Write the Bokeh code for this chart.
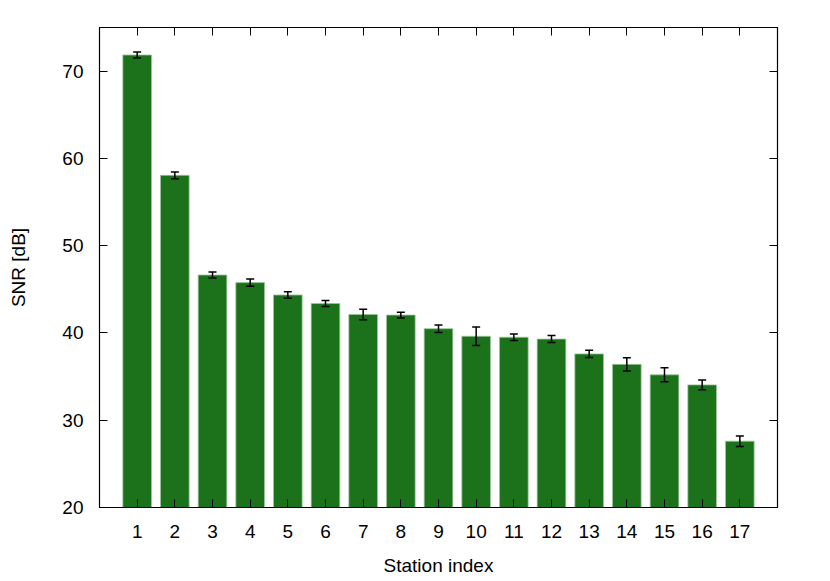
from bokeh.plotting import figure
from bokeh.models import ColumnDataSource, Whisker, TeeHead, LinearAxis, FixedTicker, Range1d
from bokeh.embed import file_html
from bokeh.resources import INLINE

stations = list(range(1, 18))
snr = [71.85, 58.06, 46.64, 45.77, 44.35, 43.37, 42.12, 42.05, 40.49, 39.62,
       39.51, 39.30, 37.60, 36.40, 35.20, 34.05, 27.60]
err = [0.35, 0.38, 0.35, 0.42, 0.36, 0.35, 0.60, 0.33, 0.43, 1.07,
       0.38, 0.40, 0.42, 0.75, 0.80, 0.57, 0.60]
y_ticks = [20, 30, 40, 50, 60, 70]

src = ColumnDataSource(dict(
    x=stations, top=snr,
    upper=[s + e for s, e in zip(snr, err)],
    lower=[s - e for s, e in zip(snr, err)],
))

FONT = "Liberation Sans"

p = figure(width=822, height=578, output_backend="svg", toolbar_location=None,
           x_range=Range1d(0, 18), y_range=Range1d(20, 75),
           x_axis_location=None, y_axis_location=None,
           min_border_left=99, min_border_right=45, min_border_top=27, min_border_bottom=66)
p.outline_line_color = "black"
p.outline_line_width = 1.2
p.xgrid.visible = False
p.ygrid.visible = False

p.vbar(x="x", top="top", bottom=20, width=0.76, source=src,
       fill_color="#1b721b", line_color="#9cc49c", line_width=0.8)

w = Whisker(base="x", upper="upper", lower="lower", source=src,
            line_color="black", line_width=1.5, level="overlay",
            upper_head=TeeHead(size=8, line_color="black", line_width=1.5),
            lower_head=TeeHead(size=8, line_color="black", line_width=1.5))
p.add_layout(w)

def style(ax, labels=True):
    ax.major_tick_in = 8
    ax.major_tick_out = 0
    ax.minor_tick_in = 0
    ax.minor_tick_out = 0
    ax.axis_line_color = "black"
    ax.major_tick_line_color = "black"
    ax.major_label_text_font = FONT
    ax.major_label_text_font_size = "19px"
    ax.major_label_text_color = "black"
    ax.axis_label_text_font = FONT
    ax.axis_label_text_font_size = "19px"
    ax.axis_label_text_font_style = "normal"
    ax.axis_label_text_color = "black"
    if not labels:
        ax.major_label_text_font_size = "0px"
        ax.major_label_text_alpha = 0

xb = LinearAxis(ticker=FixedTicker(ticks=stations), axis_label="Station index")
style(xb)
xb.major_label_standoff = 17
xb.axis_label_standoff = 14
p.add_layout(xb, "below")

xt = LinearAxis(ticker=FixedTicker(ticks=stations))
style(xt, labels=False)
p.add_layout(xt, "above")

yl = LinearAxis(ticker=FixedTicker(ticks=y_ticks), axis_label="SNR [dB]")
style(yl)
yl.major_label_standoff = 16
yl.axis_label_standoff = 30
p.add_layout(yl, "left")

yr = LinearAxis(ticker=FixedTicker(ticks=y_ticks))
style(yr, labels=False)
p.add_layout(yr, "right")

open("out.html", "w").write(file_html(p, INLINE))
